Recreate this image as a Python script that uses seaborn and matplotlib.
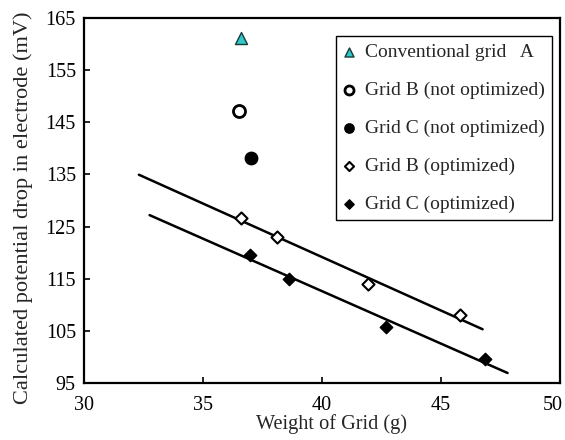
import numpy as np
import pandas as pd
import seaborn as sns
import matplotlib.pyplot as plt
from matplotlib.transforms import ScaledTranslation

# values
conv_x = [36.6]
conv_y = [161.2]
b_not_x = [36.5]
b_not_y = [147.1]
c_not_x = [37.0]
c_not_y = [138.1]
b_opt_x = [36.6, 38.1, 41.95, 45.8]
b_opt_y = [126.7, 123.0, 113.9, 108.0]
c_opt_x = [36.97, 38.63, 42.7, 46.85]
c_opt_y = [119.6, 115.0, 105.8, 99.7]

# extent of the fitted lines
b_fit_range = [32.3, 46.75]
c_fit_range = [32.75, 47.8]

sns.set_theme(style="white")
plt.rcParams['font.family'] = ['Liberation Serif', 'DejaVu Serif']

fig = plt.figure(figsize=(5.65, 4.4), dpi=100)
ax = fig.add_axes([0.149, 0.1295, 0.842, 0.8295])

# --- fitted lines ---
for xs, ys, rng in [(b_opt_x, b_opt_y, b_fit_range), (c_opt_x, c_opt_y, c_fit_range)]:
    k, b = np.polyfit(xs, ys, 1)
    line = pd.DataFrame({'x': rng, 'y': [k * v + b for v in rng]})
    sns.lineplot(data=line, x='x', y='y', color='black', linewidth=1.8, ax=ax)

# --- points ---
sns.scatterplot(x=conv_x, y=conv_y, marker='^', s=75, color='#2ec8c8',
                edgecolor='#1a3a3a', linewidth=1.0, label='Conventional grid   A', ax=ax, zorder=3)
sns.scatterplot(x=b_not_x, y=b_not_y, marker='o', s=75, facecolor='white',
                edgecolor='black', linewidth=2.0, label='Grid B (not optimized)', ax=ax, zorder=3)
sns.scatterplot(x=c_not_x, y=c_not_y, marker='o', s=80, color='black',
                edgecolor='black', linewidth=1.0, label='Grid C (not optimized)', ax=ax, zorder=3)
sns.scatterplot(x=b_opt_x, y=b_opt_y, marker='D', s=38, facecolor='white',
                edgecolor='black', linewidth=1.5, label='Grid B (optimized)', ax=ax, zorder=3)
sns.scatterplot(x=c_opt_x, y=c_opt_y, marker='D', s=40, color='black',
                edgecolor='black', linewidth=1.0, label='Grid C (optimized)', ax=ax, zorder=3)

ax.set_xlim(30, 50)
ax.set_ylim(95, 165)
ax.set_xticks(range(30, 51, 5))
ax.set_yticks(range(95, 166, 10))
ax.tick_params(direction='in', length=4, width=1.2, labelsize=14.5, colors='black',
               top=False, right=False, left=True, bottom=True, pad=6)
ax.tick_params(axis='x', pad=9)
for sp in ax.spines.values():
    sp.set_visible(True)
    sp.set_color('black')
    sp.set_linewidth(1.6)

# last x label sits a little inside the frame, as in the reference
fig.canvas.draw()
last = ax.get_xticklabels()[-1]
last.set_transform(last.get_transform() + ScaledTranslation(-0.07, 0, fig.dpi_scale_trans))

ax.set_xlabel('Weight of Grid (g)', fontsize=14.6)
ax.xaxis.set_label_coords(0.52, -0.085)
ax.set_ylabel('Calculated potential drop in electrode (mV)', fontsize=16.1)
ax.yaxis.set_label_coords(-0.108, 0.481)

leg = ax.legend(loc='upper right', bbox_to_anchor=(0.983, 0.95), fontsize=14,
                frameon=True, fancybox=False, edgecolor='black', framealpha=1,
                handlelength=0.6, handletextpad=0.55, labelspacing=1.05,
                borderpad=0.35, borderaxespad=0, markerscale=0.75)
leg.get_frame().set_linewidth(1.0)

fig.savefig('out.png', dpi=100)
